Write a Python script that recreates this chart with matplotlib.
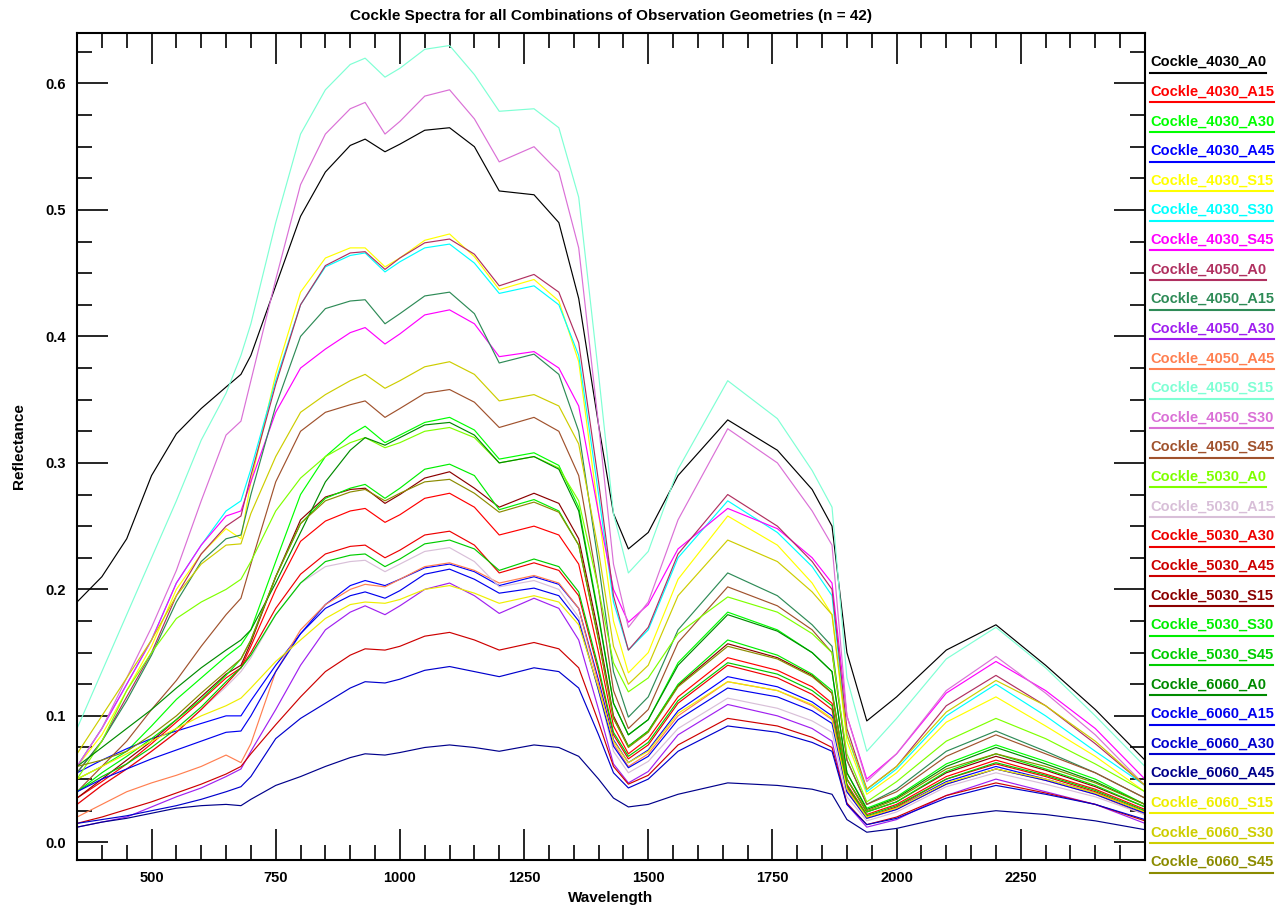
import matplotlib
matplotlib.use("Agg")
import matplotlib.pyplot as plt
from matplotlib.lines import Line2D
from matplotlib.ticker import MultipleLocator, FixedLocator

plt.rcParams['font.family'] = ['Liberation Sans', 'DejaVu Sans']

wavelength = [350, 400, 450, 500, 550, 600, 650, 680, 700, 750,
              800, 850, 900, 930, 970, 1000, 1050, 1100, 1150, 1200,
              1270, 1320, 1360, 1400, 1430, 1460, 1500, 1560, 1660, 1760,
              1830, 1870, 1900, 1940, 2000, 2100, 2200, 2300, 2400, 2500]

c4030_a0 = [0.19, 0.21, 0.24, 0.29, 0.323, 0.343, 0.36, 0.37, 0.385, 0.44,
            0.495, 0.53, 0.551, 0.556, 0.546, 0.552, 0.563, 0.565, 0.55, 0.515,
            0.512, 0.49, 0.43, 0.33, 0.26, 0.232, 0.245, 0.29, 0.334, 0.31,
            0.279, 0.25, 0.15, 0.096, 0.115, 0.152, 0.172, 0.14, 0.105, 0.065]
c4030_a15 = [0.035, 0.048, 0.062, 0.078, 0.095, 0.112, 0.13, 0.138, 0.155, 0.2,
             0.238, 0.254, 0.262, 0.264, 0.253, 0.259, 0.272, 0.276, 0.265, 0.243,
             0.25, 0.243, 0.22, 0.15, 0.092, 0.07, 0.082, 0.115, 0.146, 0.136,
             0.123, 0.11, 0.046, 0.022, 0.03, 0.052, 0.065, 0.054, 0.042, 0.026]
c4030_a30 = [0.05, 0.06, 0.072, 0.092, 0.113, 0.13, 0.147, 0.156, 0.168, 0.222,
             0.275, 0.305, 0.322, 0.329, 0.316, 0.322, 0.332, 0.336, 0.326, 0.303,
             0.308, 0.298, 0.265, 0.18, 0.11, 0.085, 0.097, 0.142, 0.182, 0.168,
             0.15, 0.135, 0.055, 0.027, 0.036, 0.062, 0.077, 0.064, 0.05, 0.03]
c4030_a45 = [0.055, 0.065, 0.074, 0.082, 0.088, 0.094, 0.1, 0.1, 0.112, 0.14,
             0.165, 0.188, 0.203, 0.207, 0.203, 0.208, 0.217, 0.22, 0.214, 0.203,
             0.21, 0.204, 0.185, 0.128, 0.081, 0.063, 0.073, 0.104, 0.131, 0.123,
             0.111, 0.1, 0.042, 0.02, 0.027, 0.048, 0.06, 0.05, 0.039, 0.024]
c4030_s15 = [0.06, 0.085, 0.12, 0.155, 0.2, 0.228, 0.248, 0.24, 0.285, 0.37,
             0.435, 0.462, 0.47, 0.47, 0.455, 0.462, 0.476, 0.481, 0.463, 0.437,
             0.445, 0.428, 0.38, 0.26, 0.175, 0.134, 0.15, 0.208, 0.258, 0.235,
             0.205, 0.18, 0.08, 0.038, 0.055, 0.095, 0.115, 0.092, 0.068, 0.04]
c4030_s30 = [0.06, 0.09, 0.125, 0.16, 0.205, 0.235, 0.262, 0.27, 0.295, 0.365,
             0.425, 0.455, 0.464, 0.466, 0.451, 0.459, 0.47, 0.473, 0.458, 0.434,
             0.44, 0.425, 0.385, 0.275, 0.19, 0.152, 0.168, 0.225, 0.27, 0.245,
             0.218, 0.195, 0.085, 0.04, 0.058, 0.1, 0.125, 0.1, 0.072, 0.045]
c4030_s45 = [0.06, 0.09, 0.125, 0.16, 0.205, 0.235, 0.258, 0.262, 0.285, 0.34,
             0.375, 0.39, 0.403, 0.407, 0.394, 0.402, 0.417, 0.421, 0.41, 0.384,
             0.388, 0.375, 0.345, 0.26, 0.2, 0.174, 0.188, 0.232, 0.264, 0.248,
             0.225, 0.205, 0.1, 0.05, 0.07, 0.118, 0.143, 0.12, 0.09, 0.05]
c4050_a0 = [0.055, 0.08, 0.115, 0.15, 0.195, 0.228, 0.25, 0.258, 0.29, 0.362,
            0.425, 0.456, 0.466, 0.467, 0.453, 0.462, 0.474, 0.477, 0.465, 0.44,
            0.449, 0.435, 0.395, 0.285, 0.195, 0.152, 0.17, 0.228, 0.275, 0.25,
            0.222, 0.2, 0.09, 0.042, 0.06, 0.108, 0.132, 0.108, 0.078, 0.045]
c4050_a15 = [0.055, 0.08, 0.112, 0.148, 0.19, 0.222, 0.24, 0.243, 0.275, 0.345,
             0.4, 0.422, 0.428, 0.429, 0.41, 0.418, 0.432, 0.435, 0.418, 0.379,
             0.386, 0.37, 0.325, 0.22, 0.135, 0.099, 0.115, 0.168, 0.213, 0.195,
             0.172, 0.155, 0.065, 0.03, 0.042, 0.072, 0.088, 0.072, 0.055, 0.035]
c4050_a30 = [0.012, 0.016, 0.02, 0.028, 0.036, 0.043, 0.052, 0.058, 0.072, 0.105,
             0.14, 0.168, 0.182, 0.187, 0.18, 0.187, 0.2, 0.205, 0.195, 0.181,
             0.193, 0.185, 0.16, 0.105, 0.062, 0.047, 0.056, 0.085, 0.109, 0.1,
             0.09, 0.08, 0.03, 0.012, 0.018, 0.037, 0.05, 0.04, 0.03, 0.015]
c4050_a45 = [0.02, 0.03, 0.04, 0.047, 0.053, 0.06, 0.069, 0.063, 0.078, 0.135,
             0.168, 0.188, 0.2, 0.204, 0.202, 0.208, 0.218, 0.221, 0.215, 0.205,
             0.211, 0.205, 0.185, 0.125, 0.078, 0.06, 0.07, 0.1, 0.127, 0.12,
             0.108, 0.097, 0.04, 0.019, 0.026, 0.046, 0.058, 0.049, 0.038, 0.022]
c4050_s15 = [0.09, 0.135, 0.18, 0.225, 0.27, 0.318, 0.355, 0.385, 0.41, 0.49,
             0.56, 0.595, 0.615, 0.62, 0.605, 0.612, 0.627, 0.63, 0.607, 0.578,
             0.58, 0.565, 0.51, 0.37, 0.26, 0.213, 0.23, 0.295, 0.365, 0.335,
             0.294, 0.265, 0.13, 0.072, 0.098, 0.145, 0.17, 0.138, 0.1, 0.06]
c4050_s30 = [0.06, 0.09, 0.13, 0.17, 0.215, 0.27, 0.322, 0.333, 0.365, 0.445,
             0.52, 0.56, 0.58, 0.585, 0.56, 0.57, 0.59, 0.595, 0.572, 0.538,
             0.55, 0.53, 0.47, 0.33, 0.22, 0.17, 0.19, 0.255, 0.327, 0.3,
             0.262, 0.235, 0.1, 0.048, 0.07, 0.12, 0.147, 0.118, 0.085, 0.045]
c4050_s45 = [0.04, 0.06, 0.08, 0.105, 0.128, 0.155, 0.18, 0.193, 0.22, 0.285,
             0.325, 0.34, 0.346, 0.349, 0.336, 0.343, 0.355, 0.358, 0.348, 0.328,
             0.336, 0.325, 0.29, 0.2, 0.12, 0.09, 0.105, 0.158, 0.202, 0.187,
             0.168, 0.15, 0.065, 0.03, 0.04, 0.068, 0.085, 0.07, 0.055, 0.035]
c5030_a0 = [0.05, 0.08, 0.12, 0.15, 0.177, 0.19, 0.2, 0.208, 0.222, 0.262,
            0.288, 0.305, 0.316, 0.32, 0.312, 0.316, 0.325, 0.328, 0.32, 0.3,
            0.305, 0.296, 0.27, 0.2, 0.142, 0.119, 0.13, 0.165, 0.194, 0.182,
            0.165, 0.15, 0.07, 0.032, 0.048, 0.08, 0.098, 0.082, 0.062, 0.04]
c5030_a15 = [0.03, 0.045, 0.058, 0.072, 0.087, 0.105, 0.123, 0.135, 0.146, 0.18,
             0.205, 0.218, 0.222, 0.223, 0.214, 0.22, 0.23, 0.233, 0.222, 0.202,
             0.207, 0.2, 0.178, 0.12, 0.072, 0.055, 0.064, 0.09, 0.114, 0.106,
             0.096, 0.087, 0.036, 0.017, 0.024, 0.044, 0.055, 0.046, 0.036, 0.022]
c5030_a30 = [0.03, 0.045, 0.058, 0.072, 0.087, 0.105, 0.125, 0.138, 0.15, 0.185,
             0.212, 0.228, 0.234, 0.235, 0.225, 0.231, 0.243, 0.246, 0.235, 0.213,
             0.221, 0.215, 0.195, 0.135, 0.085, 0.066, 0.077, 0.11, 0.14, 0.13,
             0.117, 0.105, 0.044, 0.02, 0.028, 0.05, 0.062, 0.052, 0.04, 0.024]
c5030_a45 = [0.015, 0.02, 0.026, 0.032, 0.039, 0.046, 0.054, 0.06, 0.07, 0.093,
             0.115, 0.135, 0.148, 0.153, 0.152, 0.155, 0.163, 0.166, 0.16, 0.152,
             0.158, 0.153, 0.138, 0.095, 0.06, 0.046, 0.053, 0.077, 0.098, 0.092,
             0.083, 0.075, 0.031, 0.014, 0.02, 0.037, 0.047, 0.039, 0.03, 0.017]
c5030_s15 = [0.035, 0.05, 0.065, 0.08, 0.097, 0.115, 0.133, 0.14, 0.158, 0.21,
             0.255, 0.273, 0.279, 0.28, 0.268, 0.275, 0.288, 0.293, 0.28, 0.265,
             0.276, 0.268, 0.24, 0.165, 0.1, 0.076, 0.088, 0.124, 0.157, 0.146,
             0.132, 0.118, 0.05, 0.024, 0.032, 0.055, 0.068, 0.057, 0.044, 0.028]
c5030_s30 = [0.04, 0.055, 0.068, 0.082, 0.097, 0.113, 0.132, 0.145, 0.16, 0.21,
             0.252, 0.272, 0.28, 0.283, 0.272, 0.28, 0.295, 0.299, 0.29, 0.263,
             0.271, 0.262, 0.235, 0.16, 0.098, 0.076, 0.088, 0.125, 0.16, 0.148,
             0.133, 0.12, 0.05, 0.024, 0.032, 0.056, 0.07, 0.058, 0.045, 0.028]
c5030_s45 = [0.04, 0.052, 0.062, 0.075, 0.09, 0.107, 0.127, 0.138, 0.148, 0.18,
             0.205, 0.222, 0.227, 0.228, 0.218, 0.224, 0.236, 0.239, 0.232, 0.215,
             0.224, 0.218, 0.198, 0.138, 0.087, 0.068, 0.079, 0.112, 0.142, 0.133,
             0.12, 0.108, 0.045, 0.021, 0.029, 0.05, 0.063, 0.053, 0.041, 0.025]
c6060_a0 = [0.06, 0.075, 0.09, 0.105, 0.122, 0.138, 0.152, 0.16, 0.168, 0.205,
            0.245, 0.285, 0.31, 0.32, 0.314, 0.32, 0.33, 0.332, 0.322, 0.3,
            0.305, 0.295, 0.262, 0.178, 0.11, 0.085, 0.097, 0.14, 0.18, 0.167,
            0.15, 0.135, 0.055, 0.026, 0.035, 0.06, 0.075, 0.062, 0.048, 0.03]
c6060_a15 = [0.04, 0.05, 0.058, 0.066, 0.073, 0.08, 0.087, 0.088, 0.1, 0.135,
             0.165, 0.185, 0.195, 0.198, 0.193, 0.199, 0.212, 0.216, 0.208, 0.197,
             0.201, 0.195, 0.175, 0.12, 0.076, 0.059, 0.068, 0.097, 0.122, 0.115,
             0.104, 0.094, 0.04, 0.019, 0.026, 0.046, 0.058, 0.049, 0.038, 0.023]
c6060_a30 = [0.015, 0.018, 0.021, 0.025, 0.029, 0.034, 0.04, 0.044, 0.052, 0.082,
             0.098, 0.11, 0.122, 0.127, 0.126, 0.129, 0.136, 0.139, 0.135, 0.131,
             0.138, 0.135, 0.122, 0.085, 0.055, 0.043, 0.05, 0.072, 0.092, 0.087,
             0.079, 0.072, 0.03, 0.014, 0.019, 0.035, 0.045, 0.038, 0.03, 0.018]
c6060_a45 = [0.012, 0.016, 0.019, 0.023, 0.027, 0.029, 0.03, 0.029, 0.034, 0.045,
             0.052, 0.06, 0.067, 0.07, 0.069, 0.071, 0.075, 0.077, 0.075, 0.072,
             0.077, 0.075, 0.068, 0.05, 0.035, 0.028, 0.03, 0.038, 0.047, 0.045,
             0.042, 0.038, 0.018, 0.008, 0.011, 0.02, 0.025, 0.022, 0.017, 0.01]
c6060_s15 = [0.05, 0.06, 0.07, 0.08, 0.09, 0.1, 0.108, 0.114, 0.122, 0.143,
             0.16, 0.177, 0.188, 0.19, 0.189, 0.192, 0.2, 0.203, 0.197, 0.189,
             0.195, 0.19, 0.172, 0.122, 0.08, 0.063, 0.072, 0.102, 0.127, 0.12,
             0.109, 0.098, 0.042, 0.02, 0.027, 0.047, 0.058, 0.05, 0.039, 0.024]
c6060_s30 = [0.07, 0.1, 0.13, 0.16, 0.195, 0.22, 0.235, 0.236, 0.26, 0.305,
             0.34, 0.354, 0.365, 0.37, 0.359, 0.365, 0.376, 0.38, 0.37, 0.349,
             0.354, 0.345, 0.315, 0.23, 0.155, 0.125, 0.14, 0.195, 0.239, 0.222,
             0.198, 0.18, 0.085, 0.042, 0.06, 0.103, 0.128, 0.108, 0.08, 0.045]
c6060_s45 = [0.06, 0.065, 0.072, 0.085, 0.1, 0.118, 0.135, 0.145, 0.16, 0.21,
             0.252, 0.27, 0.277, 0.279, 0.27, 0.276, 0.285, 0.287, 0.276, 0.261,
             0.269, 0.261, 0.235, 0.16, 0.098, 0.075, 0.087, 0.123, 0.155, 0.145,
             0.131, 0.118, 0.05, 0.025, 0.034, 0.058, 0.07, 0.06, 0.047, 0.03]

names = ['Cockle_4030_A0', 'Cockle_4030_A15', 'Cockle_4030_A30', 'Cockle_4030_A45',
         'Cockle_4030_S15', 'Cockle_4030_S30', 'Cockle_4030_S45',
         'Cockle_4050_A0', 'Cockle_4050_A15', 'Cockle_4050_A30', 'Cockle_4050_A45',
         'Cockle_4050_S15', 'Cockle_4050_S30', 'Cockle_4050_S45',
         'Cockle_5030_A0', 'Cockle_5030_A15', 'Cockle_5030_A30', 'Cockle_5030_A45',
         'Cockle_5030_S15', 'Cockle_5030_S30', 'Cockle_5030_S45',
         'Cockle_6060_A0', 'Cockle_6060_A15', 'Cockle_6060_A30', 'Cockle_6060_A45',
         'Cockle_6060_S15', 'Cockle_6060_S30', 'Cockle_6060_S45']
spectra = [c4030_a0, c4030_a15, c4030_a30, c4030_a45, c4030_s15, c4030_s30, c4030_s45,
           c4050_a0, c4050_a15, c4050_a30, c4050_a45, c4050_s15, c4050_s30, c4050_s45,
           c5030_a0, c5030_a15, c5030_a30, c5030_a45, c5030_s15, c5030_s30, c5030_s45,
           c6060_a0, c6060_a15, c6060_a30, c6060_a45, c6060_s15, c6060_s30, c6060_s45]
colors = ['#000000', '#ff0000', '#00ff00', '#0000ff', '#ffff00', '#00ffff', '#ff00ff',
          '#b03060', '#2e8b57', '#a020f0', '#ff7f50', '#7fffd4', '#da70d6', '#a0522d',
          '#7fff00', '#d8bfd8', '#ee0000', '#cd0000', '#8b0000', '#00ee00', '#00cd00',
          '#008b00', '#0000ee', '#0000cd', '#00008b', '#eeee00', '#cdcd00', '#8b8b00']

fig = plt.figure(figsize=(12.84, 9.13), dpi=100)
ax = fig.add_axes([0.06, 0.058, 0.8317, 0.906])

for vals, col in zip(spectra, colors):
    ax.plot(wavelength, vals, color=col, lw=0.85)

ax.set_xlim(350, 2500)
ax.set_ylim(-0.014, 0.64)
ax.xaxis.set_major_locator(FixedLocator([500, 750, 1000, 1250, 1500, 1750, 2000, 2250]))
ax.xaxis.set_minor_locator(MultipleLocator(50))
ax.yaxis.set_major_locator(MultipleLocator(0.1))
ax.yaxis.set_minor_locator(MultipleLocator(0.025))
ax.yaxis.set_major_formatter(plt.FuncFormatter(lambda v, p: f"{v:.1f}"))
ax.tick_params(which='both', direction='in', top=True, right=True, width=1.2)
ax.tick_params(which='major', length=22, labelsize=10.5, pad=8)
ax.tick_params(which='minor', length=11)
for lbl in ax.get_xticklabels() + ax.get_yticklabels():
    lbl.set_fontweight('bold')
for sp in ax.spines.values():
    sp.set_linewidth(1.5)

ax.set_title('Cockle Spectra for all Combinations of Observation Geometries (n = 42)',
             fontsize=11, fontweight='bold', pad=9)
ax.set_xlabel('Wavelength', fontsize=11, fontweight='bold', labelpad=4)
ax.set_ylabel('Reflectance', fontsize=11, fontweight='bold', labelpad=14)

# legend outside on the right: coloured names, each underlined
texts = []
for i, (name, col) in enumerate(zip(names, colors)):
    y = 1 - (62 + i * 29.63) / 913
    t = fig.text(1150 / 1284, y, name, color=col, fontsize=10.5, fontweight='bold',
                 va='center', ha='left')
    texts.append(t)
fig.canvas.draw()
inv = fig.transFigure.inverted()
for t, col in zip(texts, colors):
    bb = t.get_window_extent()
    (x0, y0), (x1, y1) = inv.transform([[bb.x0, bb.y0], [bb.x1, bb.y1]])
    fig.add_artist(Line2D([x0, x1], [y0 - 0.004, y0 - 0.004], color=col, lw=1.5,
                          transform=fig.transFigure))

fig.savefig('out.png', dpi=100)
